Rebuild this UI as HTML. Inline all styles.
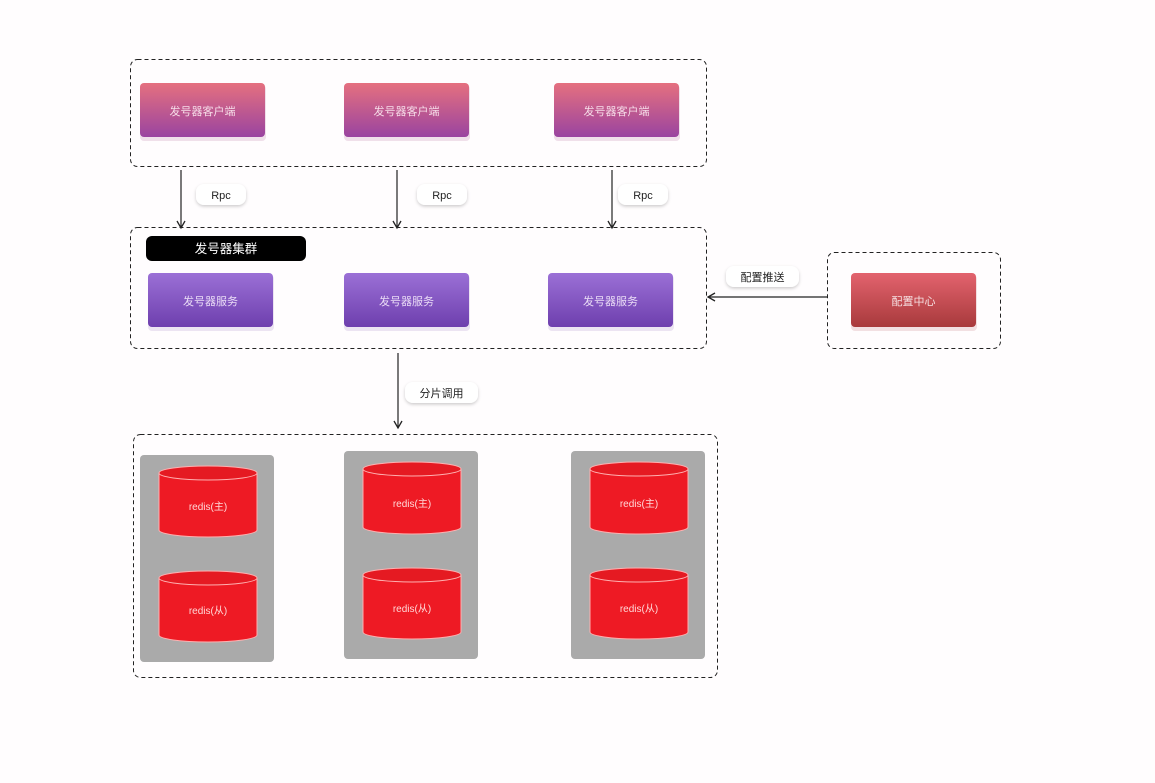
<!DOCTYPE html>
<html><head><meta charset="utf-8"><style>
html,body{margin:0;padding:0;background:#fffdfe;}
svg{display:block;font-family:"Liberation Sans","Noto Sans CJK SC",sans-serif;}
</style></head><body>
<svg width="1155" height="783" viewBox="0 0 1155 783" xmlns="http://www.w3.org/2000/svg">
<defs>
<linearGradient id="pk" x1="0" y1="0" x2="0" y2="1"><stop offset="0" stop-color="#e5707f"/><stop offset="1" stop-color="#9a44a0"/></linearGradient>
<linearGradient id="pu" x1="0" y1="0" x2="0" y2="1"><stop offset="0" stop-color="#9b70d6"/><stop offset="1" stop-color="#6e3fae"/></linearGradient>
<linearGradient id="rd" x1="0" y1="0" x2="0" y2="1"><stop offset="0" stop-color="#e3636e"/><stop offset="1" stop-color="#a83a3c"/></linearGradient>
<marker id="ah" markerWidth="10" markerHeight="10" refX="8" refY="5" orient="auto" markerUnits="userSpaceOnUse"><path d="M1,1 L8,5 L1,9" fill="none" stroke="#222" stroke-width="1.3"/></marker>
<filter id="sh" x="-20%" y="-40%" width="140%" height="180%"><feDropShadow dx="0" dy="1.5" stdDeviation="1.5" flood-color="#000" flood-opacity="0.2"/></filter>
</defs>
<rect width="1155" height="783" fill="#fffdfe"/>
<g fill="none" stroke="#222" stroke-width="1" stroke-dasharray="4,3">
<rect x="130.5" y="59.5" width="576" height="107" rx="7"/>
<rect x="130.5" y="227.5" width="576" height="121" rx="7"/>
<rect x="827.5" y="252.5" width="173" height="96" rx="7"/>
<rect x="133.5" y="434.5" width="584" height="243" rx="7"/>
</g>
<!-- clients -->
<g font-size="11" fill="#f6dce8" text-anchor="middle">
<rect x="140" y="85" width="126" height="56" rx="4" fill="#f0e0ea"/>
<rect x="140" y="83" width="125" height="54" rx="4" fill="url(#pk)"/>
<text x="202.5" y="115">发号器客户端</text>
<rect x="344" y="85" width="126" height="56" rx="4" fill="#f0e0ea"/>
<rect x="344" y="83" width="125" height="54" rx="4" fill="url(#pk)"/>
<text x="406.5" y="115">发号器客户端</text>
<rect x="554" y="85" width="126" height="56" rx="4" fill="#f0e0ea"/>
<rect x="554" y="83" width="125" height="54" rx="4" fill="url(#pk)"/>
<text x="616.5" y="115">发号器客户端</text>
</g>
<!-- arrows -->
<g stroke="#222" stroke-width="1.2" marker-end="url(#ah)">
<line x1="181" y1="170" x2="181" y2="228"/>
<line x1="397" y1="170" x2="397" y2="228"/>
<line x1="612" y1="170" x2="612" y2="228"/>
<line x1="398" y1="353" x2="398" y2="428"/>
<line x1="827" y1="297" x2="708" y2="297"/>
</g>
<!-- labels -->
<g font-size="11" fill="#222" text-anchor="middle">
<rect x="196" y="184" width="50" height="21" rx="8" fill="#fff" filter="url(#sh)"/>
<text x="221" y="199">Rpc</text>
<rect x="417" y="184" width="50" height="21" rx="8" fill="#fff" filter="url(#sh)"/>
<text x="442" y="199">Rpc</text>
<rect x="618" y="184" width="50" height="21" rx="8" fill="#fff" filter="url(#sh)"/>
<text x="643" y="199">Rpc</text>
<rect x="726" y="266" width="73" height="21" rx="8" fill="#fff" filter="url(#sh)"/>
<text x="762.5" y="281">配置推送</text>
<rect x="405" y="382" width="73" height="21" rx="8" fill="#fff" filter="url(#sh)"/>
<text x="441.5" y="397">分片调用</text>
</g>
<rect x="146" y="236" width="160" height="25" rx="6" fill="#000"/>
<text x="226" y="253" font-size="12.5" fill="#fff" text-anchor="middle">发号器集群</text>
<!-- services -->
<g font-size="11" fill="#eadcf6" text-anchor="middle">
<rect x="148" y="275" width="126" height="56" rx="4" fill="#ece4f2"/>
<rect x="148" y="273" width="125" height="54" rx="4" fill="url(#pu)"/>
<text x="210.5" y="305">发号器服务</text>
<rect x="344" y="275" width="126" height="56" rx="4" fill="#ece4f2"/>
<rect x="344" y="273" width="125" height="54" rx="4" fill="url(#pu)"/>
<text x="406.5" y="305">发号器服务</text>
<rect x="548" y="275" width="126" height="56" rx="4" fill="#ece4f2"/>
<rect x="548" y="273" width="125" height="54" rx="4" fill="url(#pu)"/>
<text x="610.5" y="305">发号器服务</text>
<rect x="851" y="275" width="126" height="56" rx="4" fill="#f2e0e2"/>
<rect x="851" y="273" width="125" height="54" rx="4" fill="url(#rd)"/>
<text x="913.5" y="305" fill="#f6e0e2">配置中心</text>
</g>
<!-- redis panels -->
<g fill="#aaaaaa">
<rect x="140" y="455" width="134" height="207" rx="4"/>
<rect x="344" y="451" width="134" height="208" rx="4"/>
<rect x="571" y="451" width="134" height="208" rx="4"/>
</g>
<g stroke="#ffb0b0" stroke-width="1" font-size="10" text-anchor="middle">
<g id="c1">
<path d="M159,473 v57 a49,7 0 0 0 98,0 v-57" fill="#ee1a24"/>
<ellipse cx="208" cy="473" rx="49" ry="7" fill="#e51a22"/>
</g>
<text x="208" y="510" fill="#ffd8d8" stroke="none">redis(主)</text>
<path d="M159,578 v57 a49,7 0 0 0 98,0 v-57" fill="#ee1a24"/>
<ellipse cx="208" cy="578" rx="49" ry="7" fill="#e51a22"/>
<text x="208" y="614" fill="#ffd8d8" stroke="none">redis(从)</text>

<path d="M363,469 v58 a49,7 0 0 0 98,0 v-58" fill="#ee1a24"/>
<ellipse cx="412" cy="469" rx="49" ry="7" fill="#e51a22"/>
<text x="412" y="507" fill="#ffd8d8" stroke="none">redis(主)</text>
<path d="M363,575 v57 a49,7 0 0 0 98,0 v-57" fill="#ee1a24"/>
<ellipse cx="412" cy="575" rx="49" ry="7" fill="#e51a22"/>
<text x="412" y="612" fill="#ffd8d8" stroke="none">redis(从)</text>

<path d="M590,469 v58 a49,7 0 0 0 98,0 v-58" fill="#ee1a24"/>
<ellipse cx="639" cy="469" rx="49" ry="7" fill="#e51a22"/>
<text x="639" y="507" fill="#ffd8d8" stroke="none">redis(主)</text>
<path d="M590,575 v57 a49,7 0 0 0 98,0 v-57" fill="#ee1a24"/>
<ellipse cx="639" cy="575" rx="49" ry="7" fill="#e51a22"/>
<text x="639" y="612" fill="#ffd8d8" stroke="none">redis(从)</text>
</g>
</svg>
</body></html>
